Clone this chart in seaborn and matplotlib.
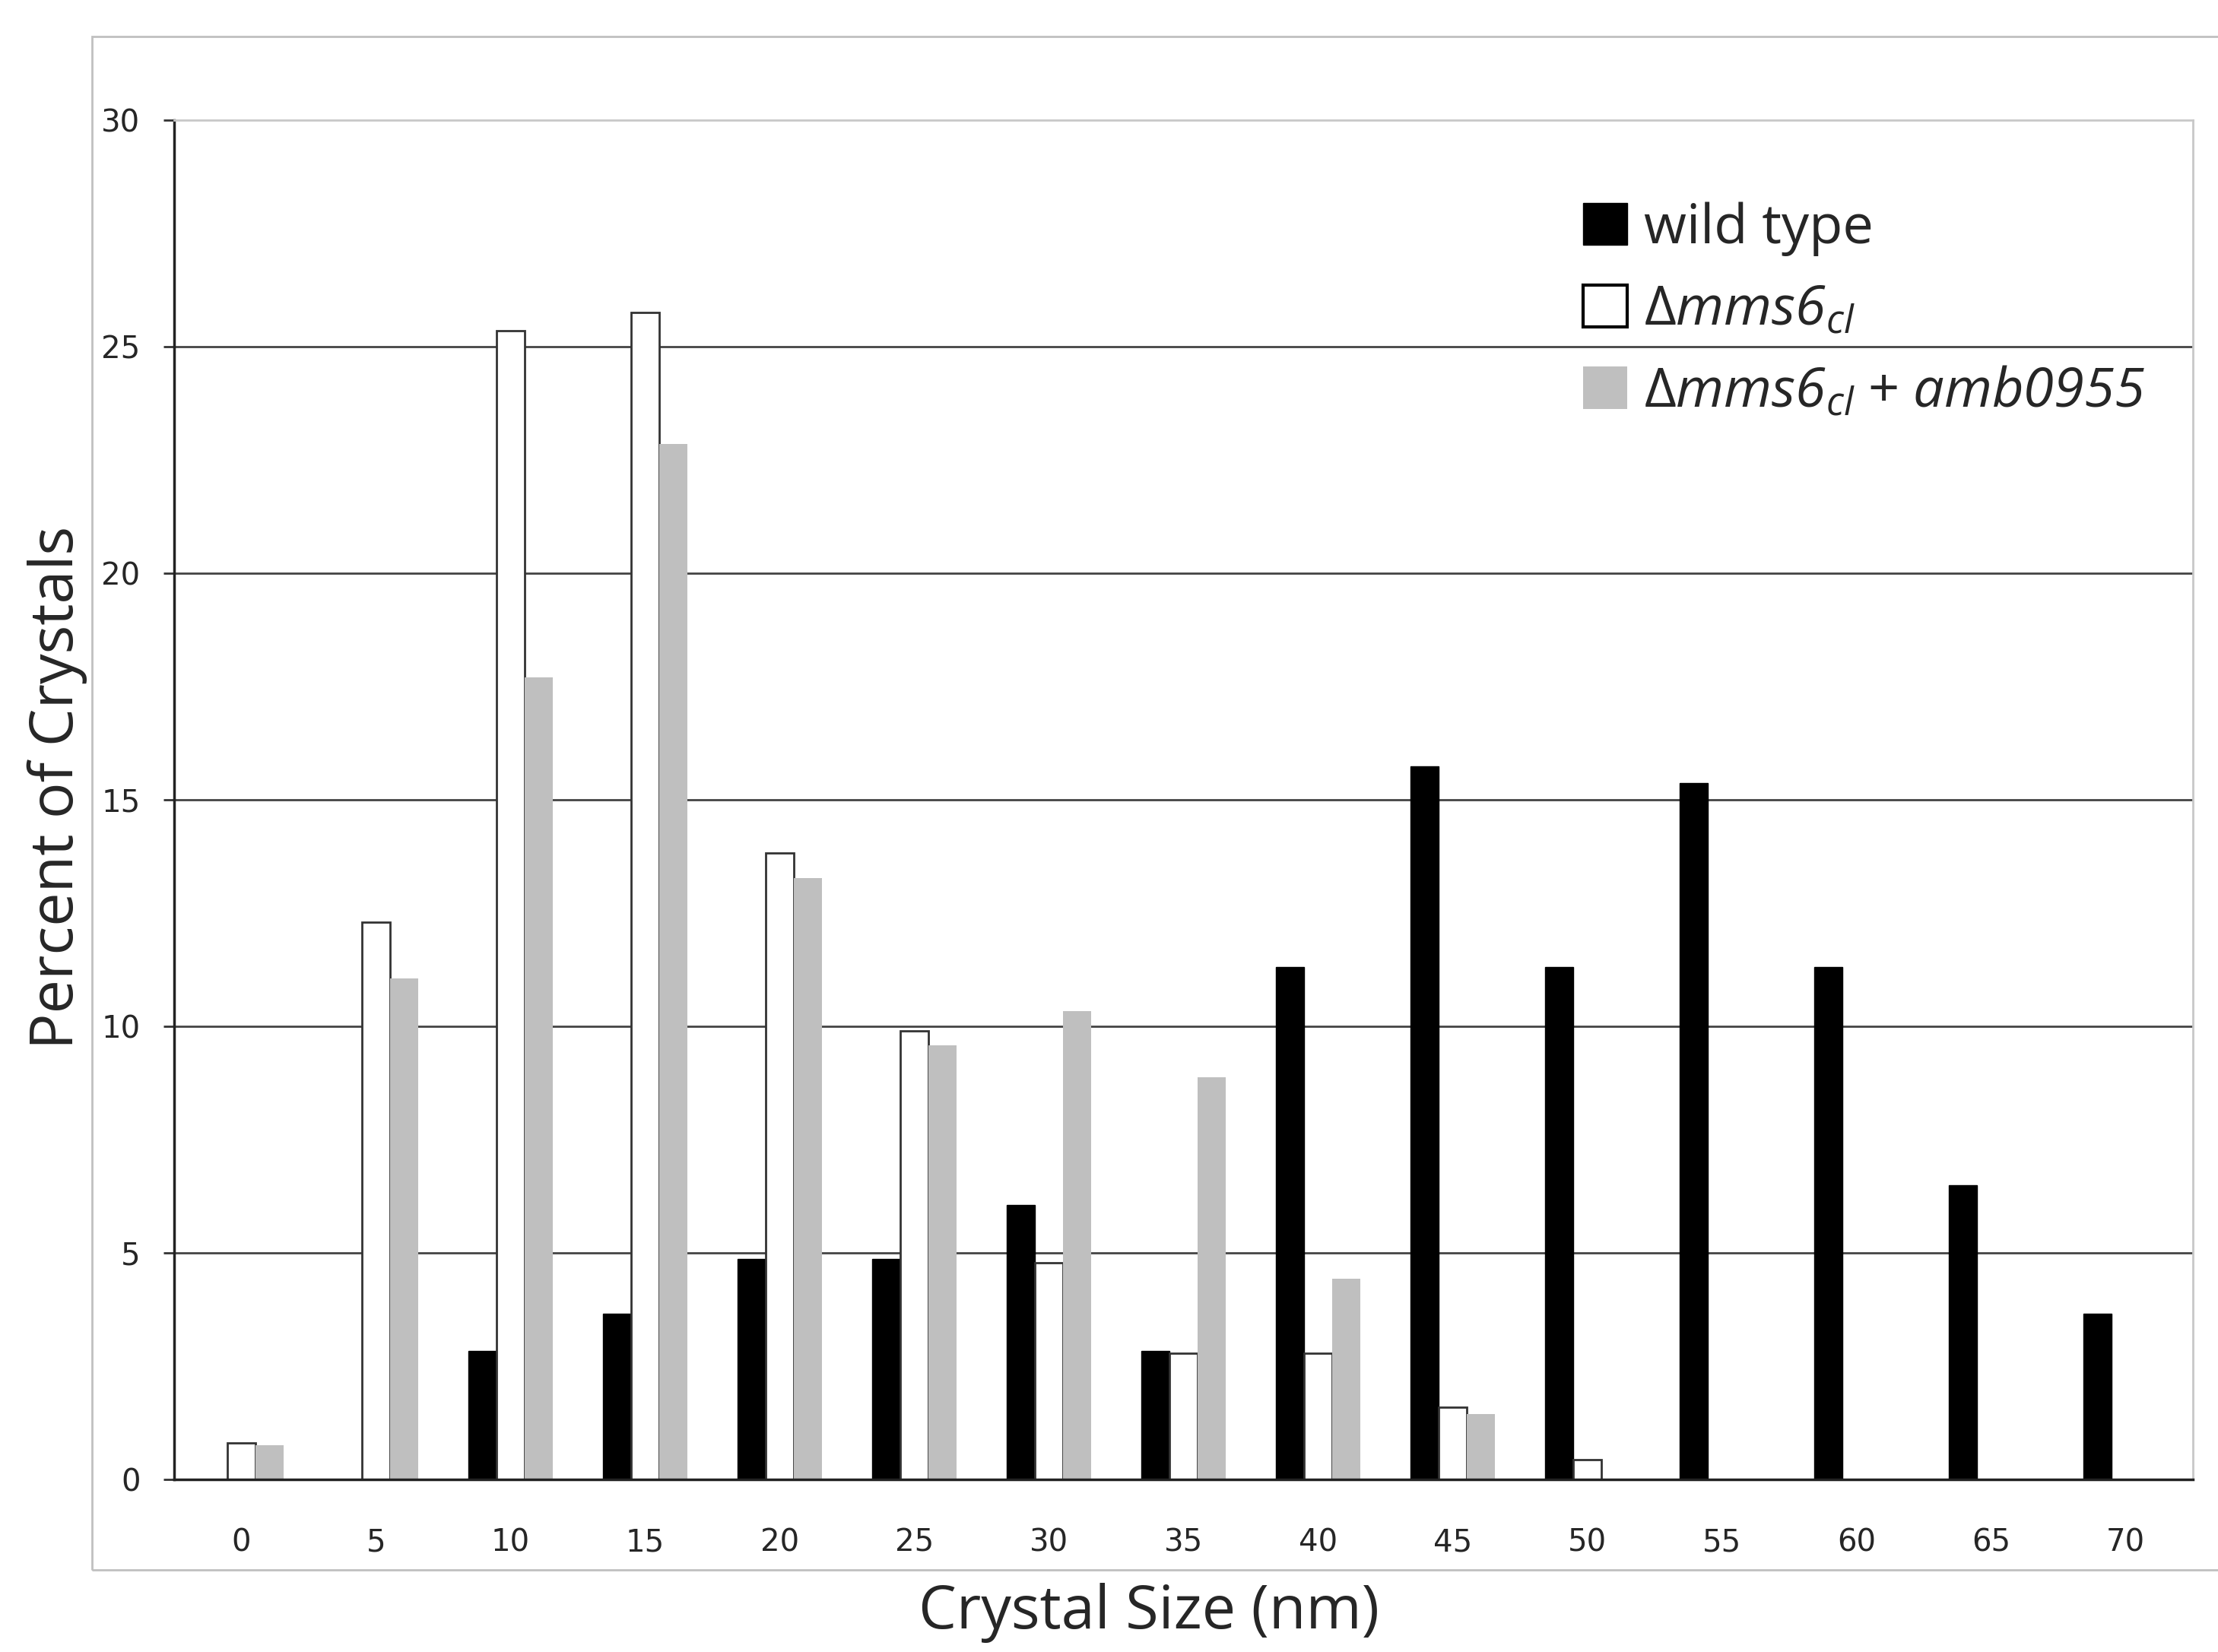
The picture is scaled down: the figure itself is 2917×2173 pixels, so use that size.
import numpy as np
import pandas as pd
import matplotlib
matplotlib.use("Agg")
import matplotlib.pyplot as plt
import seaborn as sns
from matplotlib.patches import Patch, Rectangle

# ---- data ----
sizes = [0, 5, 10, 15, 20, 25, 30, 35, 40, 45, 50, 55, 60, 65, 70]
wild_type = [0, 0, 2.84, 3.65, 4.87, 4.87, 6.06, 2.84, 11.3, 15.73, 11.3, 15.36, 11.3, 6.49, 3.65]
mms6 = [0.81, 12.3, 25.35, 25.76, 13.83, 9.9, 4.78, 2.78, 2.78, 1.6, 0.44, 0, 0, 0, 0]
mms6_amb = [0.75, 11.05, 17.7, 22.85, 13.27, 9.58, 10.33, 8.87, 4.43, 1.44, 0, 0, 0, 0, 0]

series_names = ["wild type", "mms6", "mms6_amb"]
legend_labels = ["wild type", r"$\mathsf{\Delta}mms6_{cl}$",
                 r"$\mathsf{\Delta}mms6_{cl}\;\mathsf{+}\;amb0955$"]
y_ticks = [0, 5, 10, 15, 20, 25, 30]

df = pd.DataFrame({
    "size": sizes * 3,
    "pct": wild_type + mms6 + mms6_amb,
    "strain": [series_names[0]] * len(sizes) + [series_names[1]] * len(sizes) + [series_names[2]] * len(sizes),
})

sns.set_theme(style="white")
plt.rcParams["font.family"] = ["Open Sans", "DejaVu Sans"]
plt.rcParams["mathtext.fontset"] = "custom"
plt.rcParams["mathtext.rm"] = "Open Sans:italic"
plt.rcParams["mathtext.it"] = "Open Sans:italic"
plt.rcParams["mathtext.sf"] = "Open Sans"

colors = ["#000000", "#ffffff", "#bfbfbf"]

fig = plt.figure(figsize=(29.17, 21.73), dpi=100)
ax = fig.add_axes([0.0785, 0.1045, 0.9102, 0.8228])

sns.barplot(data=df, x="size", y="pct", hue="strain", hue_order=series_names,
            palette=colors, width=0.63, gap=0, saturation=1, legend=False, ax=ax)

# bar edges
for i, cont in enumerate(ax.containers):
    for p in cont.patches:
        if i == 0:
            p.set_edgecolor("#000000"); p.set_linewidth(1)
        elif i == 1:
            if p.get_height() > 0:
                p.set_edgecolor("#333333"); p.set_linewidth(2)
            else:
                p.set_visible(False)
        else:
            p.set_linewidth(0)

ax.set_ylim(0, 30)
ax.set_xlim(-0.5, len(sizes) - 0.5)
ax.set_yticks(y_ticks)
ax.set_yticklabels([str(t) for t in y_ticks], fontfamily="DejaVu Sans", fontsize=29)
ax.set_xticks(range(len(sizes)))
ax.set_xticklabels([str(s) for s in sizes], fontfamily="DejaVu Sans", fontsize=29)
ax.set_xticks(np.arange(-0.5, len(sizes), 1), minor=True)
ax.tick_params(axis="x", which="major", length=0, pad=46)
ax.tick_params(axis="x", which="minor", length=18, width=2, color="#333333", direction="out")
ax.tick_params(axis="y", which="major", length=10, width=2, color="#333333", direction="out", pad=22, left=True)

# gridlines
ax.set_axisbelow(True)
for v in y_ticks[1:-1]:
    ax.axhline(v, color="#444444", lw=2.0, zorder=0)

for s in ["left", "bottom"]:
    ax.spines[s].set_color("#222222"); ax.spines[s].set_linewidth(2.5)
for s in ["top", "right"]:
    ax.spines[s].set_color("#c8c8c8"); ax.spines[s].set_linewidth(2)

ax.set_xlabel("Crystal Size (nm)", fontsize=57)
ax.set_ylabel("Percent of Crystals", fontsize=57)
ax.xaxis.set_label_coords(0.483, -0.098)
ax.yaxis.set_label_coords(-0.058, 0.509)
ax.xaxis.label.set_va("center")
ax.yaxis.label.set_va("center")

handles = [Patch(facecolor=colors[0], edgecolor="#000000", lw=1),
           Patch(facecolor=colors[1], edgecolor="#000000", lw=3),
           Patch(facecolor=colors[2], edgecolor="none")]
ax.legend(handles, legend_labels, loc="upper left", bbox_to_anchor=(0.698, 0.94),
          frameon=False, fontsize=52, handlelength=0.8, handleheight=0.8,
          handletextpad=0.3, labelspacing=0.5, borderpad=0, borderaxespad=0)

# outer frame of the chart area
fig.patches.append(Rectangle((0.0415, 0.0497), 1.0, 0.9283, transform=fig.transFigure,
                             fill=False, edgecolor="#c0c0c0", lw=2))

fig.savefig("out.png", dpi=100, facecolor="white")
